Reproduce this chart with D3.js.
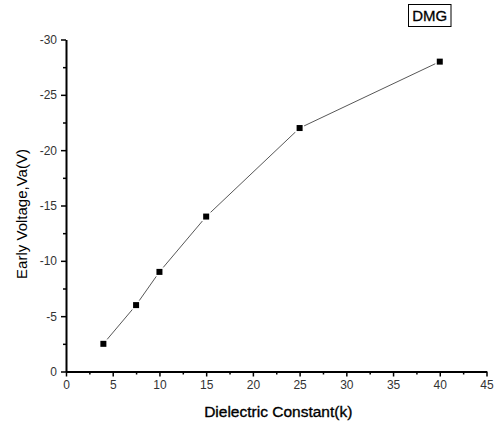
<!DOCTYPE html>
<html>
<head>
<meta charset="utf-8">
<script src="https://cdn.jsdelivr.net/npm/d3@7"></script>
<style>
  body { margin: 0; background: #fff; }
  text { font-family: "Liberation Sans", Arial, sans-serif; }
</style>
</head>
<body>
<div id="chart"></div>
<script>
const dielectric = [4, 7.5, 10, 15, 25, 40];
const earlyVoltage = [-2.5, -6, -9, -14, -22, -28];
const xTicks = [0, 5, 10, 15, 20, 25, 30, 35, 40, 45];
const yTicks = [0, -5, -10, -15, -20, -25, -30];
const seriesName = "DMG";

const width = 494, height = 421;
const margin = { top: 39.5, right: 7.5, bottom: 49.5, left: 66 };

const svg = d3
  .select("#chart")
  .append("svg")
  .attr("width", width)
  .attr("height", height);

const x = d3
  .scaleLinear()
  .domain([0, 45])
  .range([margin.left, width - margin.right]);

const y = d3
  .scaleLinear()
  .domain([0, -30])
  .range([height - margin.bottom, margin.top]);

const data = dielectric.map((k, i) => ({ k, v: earlyVoltage[i] }));

// minor ticks between majors
const xMinor = d3.range(2.5, 45, 5);
const yMinor = d3.range(-2.5, -30, -5);
const plain = (d) => String(d);

svg
  .append("g")
  .attr("transform", `translate(0,${y(0)})`)
  .call(d3.axisBottom(x).tickValues(xTicks).tickFormat(plain).tickSize(5).tickPadding(4).tickSizeOuter(0));

svg
  .append("g")
  .attr("transform", `translate(0,${y(0)})`)
  .call(d3.axisBottom(x).tickValues(xMinor).tickSize(3).tickFormat("").tickSizeOuter(0))
  .call((g) => g.select(".domain").remove());

svg
  .append("g")
  .attr("transform", `translate(${x(0)},0)`)
  .call(d3.axisLeft(y).tickValues(yTicks).tickFormat(plain).tickSize(5).tickPadding(4).tickSizeOuter(0));

svg
  .append("g")
  .attr("transform", `translate(${x(0)},0)`)
  .call(d3.axisLeft(y).tickValues(yMinor).tickSize(3).tickFormat("").tickSizeOuter(0))
  .call((g) => g.select(".domain").remove());

svg.selectAll(".domain").attr("stroke", "#000").attr("stroke-width", 2);
svg.selectAll(".tick line").attr("stroke", "#000").attr("stroke-width", 1.5);
svg
  .selectAll(".tick text")
  .attr("fill", "#333")
  .style("font-size", "12px")
  .style("font-family", "'Liberation Sans', Arial, sans-serif");

// line
svg
  .append("path")
  .datum(data)
  .attr("fill", "none")
  .attr("stroke", "#444")
  .attr("stroke-width", 0.9)
  .attr("d", d3.line().x((d) => x(d.k)).y((d) => y(d.v)));

// markers with a white halo so the line stops short of them
svg
  .append("g")
  .selectAll("rect")
  .data(data)
  .join("rect")
  .attr("x", (d) => x(d.k) - 3)
  .attr("y", (d) => y(d.v) - 3)
  .attr("width", 6)
  .attr("height", 6)
  .attr("fill", "#000")
  .attr("stroke", "#fff")
  .attr("stroke-width", 3)
  .attr("paint-order", "stroke");

// axis titles
svg
  .append("text")
  .attr("x", (x(0) + x(45)) / 2 + 2)
  .attr("y", 417)
  .style("text-anchor", "middle")
  .style("font-size", "15.5px")
  .attr("stroke", "#000")
  .attr("stroke-width", 0.35)
  .text("Dielectric Constant(k)");

svg
  .append("text")
  .attr("transform", "rotate(-90)")
  .attr("x", -214)
  .attr("y", 27)
  .style("text-anchor", "middle")
  .style("font-size", "15px")
  .text("Early Voltage,Va(V)");

// legend box
const legend = svg.append("g");
legend
  .append("rect")
  .attr("x", 408.5)
  .attr("y", 4.5)
  .attr("width", 42.5)
  .attr("height", 22)
  .attr("fill", "#fff")
  .attr("stroke", "#000")
  .attr("stroke-width", 1);
legend
  .append("text")
  .attr("x", 429.7)
  .attr("y", 21)
  .style("text-anchor", "middle")
  .style("font-size", "15px")
  .attr("stroke", "#000")
  .attr("stroke-width", 0.3)
  .text(seriesName);
</script>
</body>
</html>
